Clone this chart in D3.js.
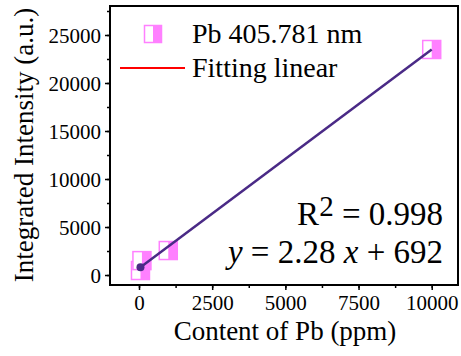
<!DOCTYPE html>
<html>
<head>
<meta charset="utf-8">
<script src="https://cdn.jsdelivr.net/npm/d3@7"></script>
<style>
  body { margin: 0; background: #fff; }
  text { font-family: "Liberation Serif", "Times New Roman", serif; fill: #000; }
</style>
</head>
<body>
<div id="chart"></div>
<script>
// data
let contentPb = [50, 100, 1000, 10000];
let intensity = [470, 1500, 2550, 23490];
let fitSlope = 2.28, fitIntercept = 692;
let xTicks = [0, 2500, 5000, 7500, 10000];
let yTicks = [0, 5000, 10000, 15000, 20000, 25000];

let W = 461, H = 356;
let plotLeft = 110, plotRight = 458, plotTop = 6, plotBottom = 285;
let pink = "#ff80ff", fitColor = "#4a2a86";

let svg = d3.select("#chart").append("svg")
    .attr("width", W).attr("height", H);

let x = d3.scaleLinear().domain([-991, 10898]).range([plotLeft, plotRight]);
let y = d3.scaleLinear().domain([-1040, 28020]).range([plotBottom, plotTop]);

// minor ticks
svg.append("g").attr("transform", "translate(0," + plotBottom + ")")
    .call(d3.axisBottom(x).tickValues(d3.range(0, 10001, 1250)).tickSize(3).tickFormat(""))
    .call(g => g.select(".domain").remove());
svg.append("g").attr("transform", "translate(" + plotLeft + ",0)")
    .call(d3.axisLeft(y).tickValues(d3.range(0, 27501, 2500)).tickSize(3).tickFormat(""))
    .call(g => g.select(".domain").remove());

// major ticks
let xAxis = svg.append("g").attr("transform", "translate(0," + plotBottom + ")")
    .call(d3.axisBottom(x).tickValues(xTicks).tickSize(5).tickPadding(5).tickFormat(d3.format("d")));
xAxis.select(".domain").remove();
xAxis.attr("font-family", null);
xAxis.selectAll("text").style("font-size", "21px").attr("fill", "#000");

let yAxis = svg.append("g").attr("transform", "translate(" + plotLeft + ",0)")
    .call(d3.axisLeft(y).tickValues(yTicks).tickSize(5).tickPadding(4).tickFormat(d3.format("d")));
yAxis.select(".domain").remove();
yAxis.attr("font-family", null);
yAxis.selectAll("text").style("font-size", "21px").attr("fill", "#000").attr("dy", "0.34em");
svg.selectAll(".tick line").attr("stroke", "#000").attr("stroke-width", 1.5);

// frame
svg.append("rect")
    .attr("x", plotLeft).attr("y", plotTop)
    .attr("width", plotRight - plotLeft).attr("height", plotBottom - plotTop)
    .attr("fill", "none").attr("stroke", "#000").attr("stroke-width", 2);

// half-filled square marker
function marker(g, cx, cy, s) {
    g.append("rect").attr("x", cx - s / 2).attr("y", cy - s / 2)
        .attr("width", s).attr("height", s)
        .attr("fill", "#fff").attr("stroke", pink).attr("stroke-width", 1.5);
    g.append("rect").attr("x", cx).attr("y", cy - s / 2)
        .attr("width", s / 2).attr("height", s)
        .attr("fill", pink);
}

let pts = svg.append("g");
contentPb.forEach((c, i) => marker(pts, x(c), y(intensity[i]), 18));

// fitted line
let x0 = contentPb[0], x1 = contentPb[contentPb.length - 1];
svg.append("line")
    .attr("x1", x(x0)).attr("y1", y(fitSlope * x0 + fitIntercept))
    .attr("x2", x(x1)).attr("y2", y(fitSlope * x1 + fitIntercept))
    .attr("stroke", fitColor).attr("stroke-width", 2.5);
svg.append("circle")
    .attr("cx", x(x0)).attr("cy", y(fitSlope * x0 + fitIntercept))
    .attr("r", 4).attr("fill", fitColor);

// legend
marker(svg.append("g"), 153, 34, 17);
svg.append("text").attr("x", 192).attr("y", 43).style("font-size", "28px").text("Pb 405.781 nm");
svg.append("line").attr("x1", 120).attr("x2", 185).attr("y1", 68).attr("y2", 68)
    .attr("stroke", "#ff0000").attr("stroke-width", 2);
svg.append("text").attr("x", 192).attr("y", 77).style("font-size", "28px").text("Fitting linear");

// equation
let r2 = svg.append("text").attr("x", 443).attr("y", 225).attr("text-anchor", "end")
    .style("font-size", "33px");
r2.append("tspan").text("R");
r2.append("tspan").attr("dy", -9).style("font-size", "29px").text("2");
r2.append("tspan").attr("dy", 9).text(" = 0.998");

let eq = svg.append("text").attr("x", 443).attr("y", 263).attr("text-anchor", "end")
    .style("font-size", "33px");
eq.append("tspan").style("font-style", "italic").text("y");
eq.append("tspan").text(" = " + fitSlope + " ");
eq.append("tspan").style("font-style", "italic").text("x");
eq.append("tspan").text(" + " + fitIntercept);

// axis titles
svg.append("text").attr("x", 285).attr("y", 340).attr("text-anchor", "middle")
    .style("font-size", "27px").text("Content of Pb (ppm)");
svg.append("text").attr("transform", "translate(33,145) rotate(-90)")
    .attr("text-anchor", "middle").style("font-size", "27px")
    .text("Integrated Intensity (a.u.)");
</script>
</body>
</html>
